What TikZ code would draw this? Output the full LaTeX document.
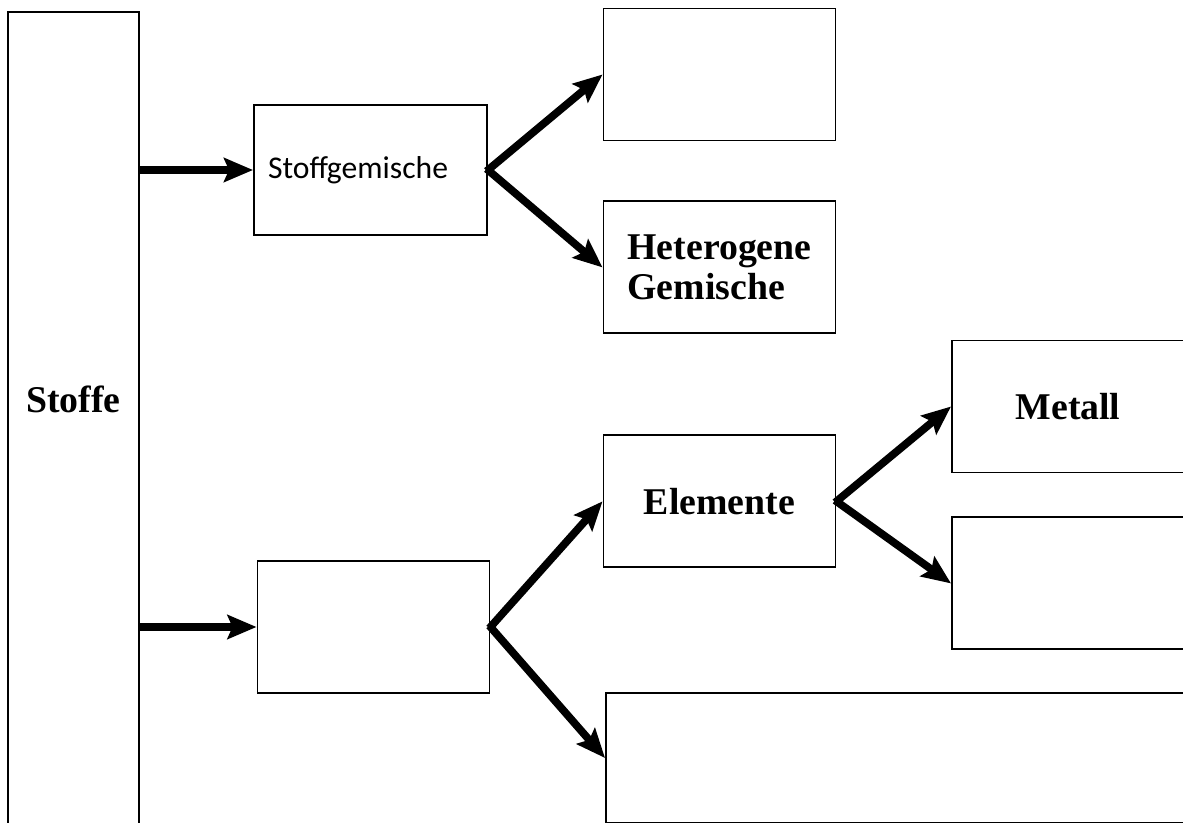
\documentclass[tikz,border=0pt]{standalone}
\usepackage{fontspec}
\setmainfont{Liberation Serif}
\newfontfamily\calibrifont{Carlito}
\usetikzlibrary{arrows.meta, positioning}

\begin{document}
\begin{tikzpicture}[
    box/.style={rectangle, draw=black, line width=1.1pt, minimum width=4.64cm, minimum height=2.64cm, align=left, font=\fontsize{21.5}{23}\selectfont\bfseries},
    tallbox/.style={rectangle, draw=black, line width=1.1pt, minimum width=2.62cm, minimum height=16.4cm},
    link/.style={-{Stealth[length=0.58cm, width=0.48cm, inset=0.1cm]}, line width=4.4pt, shorten <=-1pt}
]
\useasboundingbox (0,0) rectangle (23.66,-16.46);
\node[tallbox, label={[font=\fontsize{21.5}{23}\selectfont\bfseries, yshift=0.46cm]center:Stoffe}] (stoffe) at (1.47,-8.44) {};
\node[box, font=\fontsize{18}{20}\selectfont\calibrifont, text width=4.1cm, inner xsep=0.27cm, minimum width=4.66cm, minimum height=2.6cm] (gemische) at (7.41,-3.40) {Stoffgemische};
\node[box] (homogen) at (14.39,-1.49) {};
\node[box, below=1.18cm of homogen] (hetero) {Heterogene\\Gemische};
\node[box, below=2cm of hetero] (elemente) {Elemente};
\node[box] (reinstoffe) at (7.47,-12.54) {};
\node[box] (metall) at (21.36,-8.13) {Metall};
\node[box, below=0.86cm of metall] (nichtmetall) {};
\node[box, anchor=north west, minimum width=12cm, minimum height=2.6cm] (verbindung) at (12.10,-13.84) {};
\draw[link] (stoffe.east |- gemische) -- (gemische.west);
\draw[link] (stoffe.east |- reinstoffe) -- (reinstoffe.west);
\draw[link] (gemische.east) -- (homogen.west);
\draw[link] (gemische.east) -- (hetero.west);
\draw[link] (reinstoffe.east) -- (elemente.west);
\draw[link] (reinstoffe.east) -- (verbindung.west);
\draw[link] (elemente.east) -- (metall.west);
\draw[link] (elemente.east) -- (nichtmetall.west);
\end{tikzpicture}
\end{document}
